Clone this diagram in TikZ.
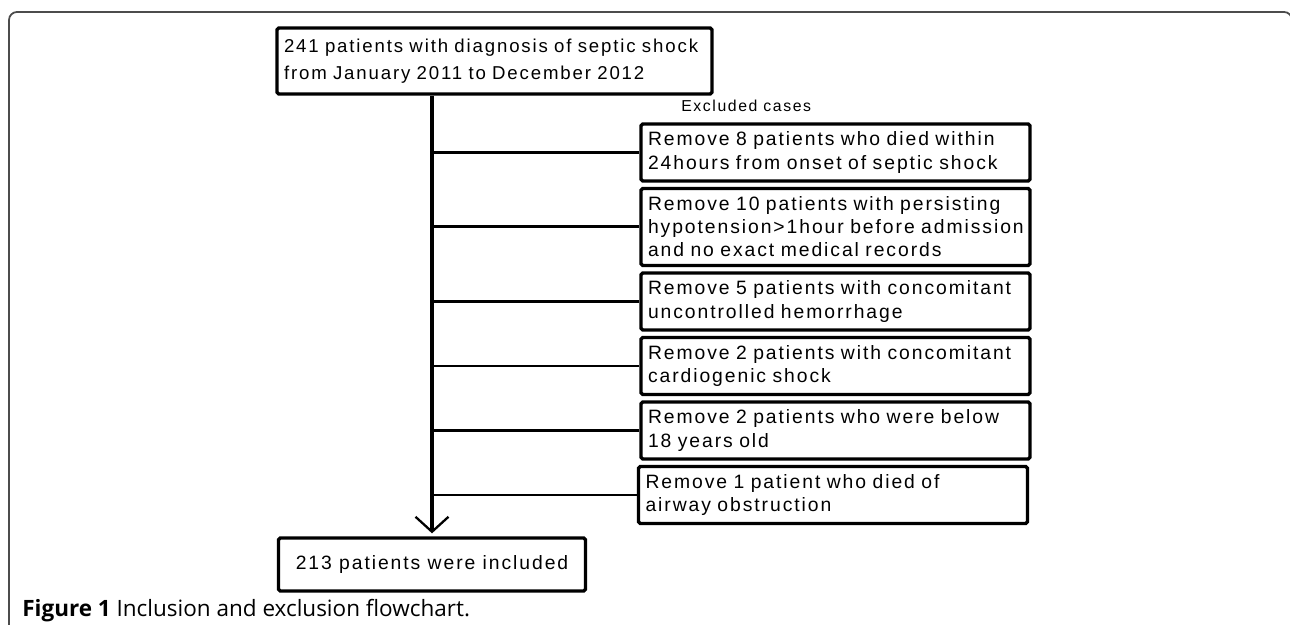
\documentclass[tikz,border=0pt]{standalone}
\usepackage{fontspec}
\usetikzlibrary{arrows.meta, positioning, calc}
\newfontfamily\boxfont{Liberation Sans}[LetterSpace=10]
\newfontfamily\capfont{Open Sans}

\begin{document}
\begin{tikzpicture}[
    flowbox/.style={draw=black, line width=1.9pt, rounded corners=1pt, inner xsep=0.14cm, align=left,
        font=\boxfont\fontsize{11}{13.1}\selectfont},
    exclbox/.style={flowbox, text width=7.5cm, minimum height=#1},
    branch/.style={draw=black, line width=1.7pt},
    mainline/.style={draw=black, line width=2pt, shorten >=0.06cm,
        -{Straight Barb[length=0.3cm, width=0.66cm, line width=1.3pt]}},
    frameline/.style={draw=black!70, line width=1pt, rounded corners=0.16cm}
]
    \useasboundingbox (0,0) rectangle (25.8,12.5);
    % outer frame
    \draw[frameline] (0.18,-0.2) -- (0.18,12.26) -- (25.84,12.26) -- (25.84,-0.2);

    \node[flowbox, text width=8.42cm, minimum height=1.32cm,
        font=\boxfont\fontsize{10.6}{15.5}\selectfont, name=total] at(9.89,11.28)
        {241 patients with diagnosis of septic shock\\from January 2011 to December 2012};
    \node[flowbox, minimum width=6.14cm, minimum height=1.06cm, align=center, name=incl] at(8.64,1.21)
        {213 patients were included};

    \node[anchor=base west, inner sep=0pt, font=\boxfont\fontsize{9}{11}\selectfont, name=exclabel]
        at(13.62,10.26) {Excluded cases};

    % main flow
    \draw[mainline] (total.south -| incl.north) -- (incl.north);

    % excluded cases
    \foreach \n/\x/\y/\h/\txt in {
        1/16.71/9.45/1.14cm/{Remove 8 patients who died within\\24hours from onset of septic shock},
        2/16.71/7.96/1.54cm/{Remove 10 patients with persisting\\hypotension>1hour before admission\\and no exact medical records},
        3/16.71/6.47/1.14cm/{Remove 5 patients with concomitant\\uncontrolled hemorrhage},
        4/16.71/5.18/1.14cm/{Remove 2 patients with concomitant\\cardiogenic shock},
        5/16.71/3.89/1.14cm/{Remove 2 patients who were below\\18 years old},
        6/16.66/2.60/1.14cm/{Remove 1 patient who died of\\airway obstruction}}
    {
        \node[exclbox=\h, name=ex\n] at(\x,\y) {\txt};
        \ifnum\n=5
            \draw[branch, line width=1.2pt] (ex\n.west) -- (ex\n.west -| incl.north);
        \else
            \draw[branch] (ex\n.west) -- (ex\n.west -| incl.north);
        \fi
    };

    \node[anchor=base west, inner sep=0pt, font=\capfont\fontsize{12.8}{15}\selectfont, name=caption]
        at(0.44,0.16) {\textbf{Figure 1} Inclusion and exclusion flowchart.};
\end{tikzpicture}
\end{document}
